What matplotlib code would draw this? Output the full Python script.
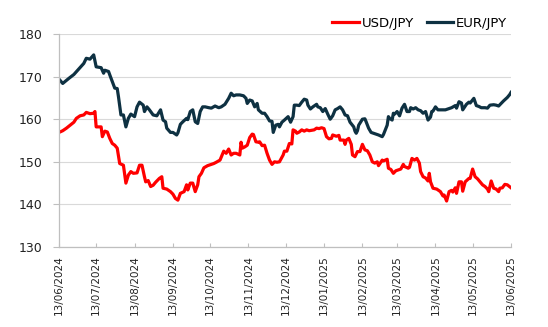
import matplotlib
matplotlib.use("Agg")
import matplotlib.pyplot as plt
import matplotlib.dates as mdates
import pandas as pd

start = pd.Timestamp("2024-06-13")

# days after 13/06/2024 and the rate
usd_days = [0, 3, 6, 9, 12, 14, 17, 20, 22, 25, 28, 29, 30, 32, 34, 35, 37, 39, 41, 43,
            45, 47, 49, 52, 54, 56, 58, 60, 63, 65, 67, 69, 70, 72, 74, 76, 78, 81, 83, 84,
            87, 90, 92, 94, 96, 98, 101, 103, 104, 106, 108, 110, 112, 113, 115, 117, 120, 123, 125, 127,
            130, 133, 135, 137, 139, 141, 143, 146, 147, 148, 150, 152, 154, 156, 157, 159, 161, 162, 164, 166,
            168, 170, 172, 174, 176, 178, 181, 182, 184, 186, 188, 189, 191, 192, 194, 196, 198, 200, 202, 204,
            206, 208, 210, 212, 214, 216, 218, 220, 221, 224, 226, 227, 230, 231, 232, 234, 236, 237, 239, 241,
            243, 245, 247, 249, 251, 253, 255, 257, 258, 261, 262, 265, 266, 268, 270, 272, 274, 276, 278, 279,
            282, 283, 285, 287, 289, 291, 292, 294, 296, 298, 299, 300, 302, 305, 308, 310, 311, 313, 315, 317,
            318, 320, 321, 323, 325, 326, 328, 331, 332, 334, 336, 338, 340, 342, 344, 346, 347, 349, 351, 353,
            355, 356, 358, 360, 362, 365]
usd_jpy = [156.9, 157.3, 157.9, 158.6, 159.3, 160.2, 160.8, 161.0, 161.6, 161.3, 161.4, 161.8, 158.2, 158.2, 158.2, 155.9, 157.2, 157.0, 155.5, 154.3,
           153.9, 153.2, 149.6, 149.2, 145.0, 146.9, 147.7, 147.3, 147.4, 149.2, 149.2, 146.5, 145.3, 145.6, 144.2, 144.5, 145.2, 146.1, 146.5, 143.8,
           143.6, 143.0, 142.4, 141.4, 141.0, 142.6, 143.0, 144.6, 143.4, 145.0, 145.0, 143.0, 144.6, 146.5, 147.3, 148.6, 149.1, 149.4, 149.6, 149.9,
           150.4, 152.5, 152.0, 153.0, 151.6, 152.0, 152.0, 151.6, 154.6, 153.2, 153.5, 153.9, 155.7, 156.5, 156.4, 154.7, 154.6, 154.7, 153.8, 153.9,
           152.0, 150.4, 149.4, 150.0, 149.9, 150.0, 151.6, 152.5, 152.5, 154.3, 154.2, 157.5, 157.2, 156.7, 157.0, 157.5, 157.2, 157.5, 157.3, 157.4,
           157.5, 157.9, 157.8, 158.0, 157.8, 155.9, 155.4, 155.5, 156.3, 156.0, 156.2, 155.1, 155.1, 154.1, 155.1, 155.5, 154.1, 151.6, 151.2, 152.4,
           152.4, 154.1, 152.8, 152.6, 151.6, 150.0, 149.7, 150.0, 149.1, 150.4, 150.2, 150.6, 148.5, 148.2, 147.3, 147.9, 148.1, 148.3, 149.4, 148.9,
           148.5, 148.7, 150.8, 150.4, 150.8, 149.7, 147.7, 146.5, 146.2, 145.5, 147.3, 145.3, 143.8, 143.6, 143.0, 142.0, 142.2, 140.8, 143.0, 143.3,
           142.9, 143.9, 142.6, 145.3, 145.3, 143.1, 145.3, 146.1, 146.1, 148.3, 146.5, 146.0, 145.3, 144.6, 144.2, 143.6, 143.0, 145.5, 143.8, 143.6,
           143.0, 143.8, 143.9, 144.7, 144.6, 143.9]

eur_days = [0, 3, 8, 12, 16, 20, 22, 25, 28, 30, 34, 36, 37, 40, 41, 45, 47, 48, 50, 52,
            54, 56, 58, 61, 63, 65, 68, 69, 71, 73, 76, 79, 82, 84, 86, 87, 90, 92, 95, 96,
            98, 100, 103, 104, 106, 108, 110, 112, 114, 116, 118, 121, 123, 126, 129, 131, 134, 137, 139, 141,
            143, 146, 149, 151, 152, 154, 156, 158, 160, 161, 164, 166, 168, 170, 172, 173, 175, 177, 178, 180,
            182, 185, 187, 189, 190, 192, 194, 196, 198, 200, 201, 203, 205, 208, 209, 211, 213, 215, 217, 219,
            221, 223, 225, 227, 229, 231, 233, 235, 238, 239, 240, 241, 242, 245, 247, 248, 250, 252, 255, 258,
            261, 262, 265, 266, 267, 269, 270, 271, 273, 275, 277, 279, 281, 283, 284, 286, 288, 290, 292, 294,
            296, 298, 300, 301, 302, 304, 306, 309, 312, 314, 317, 320, 321, 323, 325, 326, 329, 331, 332, 335,
            337, 339, 341, 344, 346, 348, 351, 353, 355, 358, 359, 362, 364, 365]
eur_jpy = [169.4, 168.4, 169.6, 170.5, 171.8, 173.1, 174.3, 174.1, 175.1, 172.3, 172.1, 170.8, 171.5, 171.2, 170.4, 167.3, 167.2, 165.3, 161.0, 161.0,
           158.2, 160.2, 161.2, 160.6, 162.9, 164.0, 163.3, 161.8, 162.9, 162.2, 161.0, 160.8, 162.2, 159.8, 159.4, 157.9, 156.9, 156.9, 156.3, 156.8,
           158.8, 159.4, 160.2, 159.9, 161.8, 162.2, 159.4, 159.0, 161.8, 162.9, 162.9, 162.7, 162.6, 163.1, 162.7, 162.9, 163.5, 164.9, 166.1, 165.5,
           165.7, 165.7, 165.5, 164.9, 163.7, 164.5, 164.3, 162.9, 163.7, 162.2, 161.4, 161.4, 160.6, 159.6, 159.5, 156.9, 158.6, 158.8, 158.2, 159.3,
           159.8, 160.6, 159.3, 160.6, 163.3, 163.3, 163.2, 164.0, 164.7, 164.5, 163.3, 162.4, 162.9, 163.5, 162.9, 162.7, 161.8, 162.5, 161.2, 160.0,
           160.8, 162.2, 162.5, 162.9, 162.2, 161.0, 160.8, 159.3, 158.2, 157.2, 156.7, 157.3, 158.6, 160.0, 160.1, 159.4, 157.9, 156.9, 156.6, 156.3,
           155.9, 156.4, 158.6, 160.6, 160.2, 159.8, 161.4, 161.2, 161.8, 160.8, 162.6, 163.5, 161.8, 161.8, 162.7, 162.4, 162.7, 162.2, 162.0, 161.4,
           161.8, 159.8, 160.5, 161.8, 161.9, 162.9, 162.2, 162.2, 162.2, 162.4, 162.7, 163.2, 162.6, 164.1, 163.8, 162.2, 163.5, 164.0, 163.8, 164.9,
           163.2, 163.0, 162.7, 162.7, 162.6, 163.3, 163.4, 163.3, 163.1, 164.0, 164.3, 165.1, 165.8, 166.3]

tick_labels = ["13/06/2024", "13/07/2024", "13/08/2024", "13/09/2024", "13/10/2024", "13/11/2024", "13/12/2024",
               "13/01/2025", "13/02/2025", "13/03/2025", "13/04/2025", "13/05/2025", "13/06/2025"]

usd_dates = start + pd.to_timedelta(usd_days, unit="D")
eur_dates = start + pd.to_timedelta(eur_days, unit="D")
tick_dates = pd.to_datetime(tick_labels, format="%d/%m/%Y")

plt.rcParams['font.family'] = ['DejaVu Sans']

fig = plt.figure(figsize=(5.48, 3.27), dpi=100)
ax = fig.add_axes([0.1077, 0.2446, 0.8248, 0.6514])

ax.plot(usd_dates, usd_jpy, color="#ff0000", lw=2.3, label="USD/JPY", solid_joinstyle="round")
ax.plot(eur_dates, eur_jpy, color="#0e3142", lw=2.3, label="EUR/JPY", solid_joinstyle="round")

ax.set_ylim(130, 180)
ax.set_yticks([130, 140, 150, 160, 170, 180])
ax.set_xlim(tick_dates[0], tick_dates[-1])
ax.set_xticks(tick_dates)
ax.xaxis.set_major_formatter(mdates.DateFormatter("%d/%m/%Y"))
ax.tick_params(axis="x", labelrotation=90)

ax.grid(axis="y", color="#d9d9d9", lw=0.8)
ax.set_axisbelow(True)
for side in ["top", "right"]:
    ax.spines[side].set_visible(False)
for side in ["left", "bottom"]:
    ax.spines[side].set_color("#bfbfbf")
    ax.spines[side].set_linewidth(0.9)

ax.tick_params(axis="y", direction="out", length=4, color="#bfbfbf", labelsize=9,
               labelcolor="#222222", pad=8)
ax.tick_params(axis="x", direction="in", length=3, color="#bfbfbf", labelsize=7.5,
               labelcolor="#222222", pad=6)

ax.legend(loc="lower right", bbox_to_anchor=(1.0, 1.0), ncol=2, frameon=False,
          fontsize=9.5, handlelength=2.0, handletextpad=0.2, columnspacing=1.0,
          borderaxespad=0.2, borderpad=0.1)

fig.savefig("out.png", dpi=100)
